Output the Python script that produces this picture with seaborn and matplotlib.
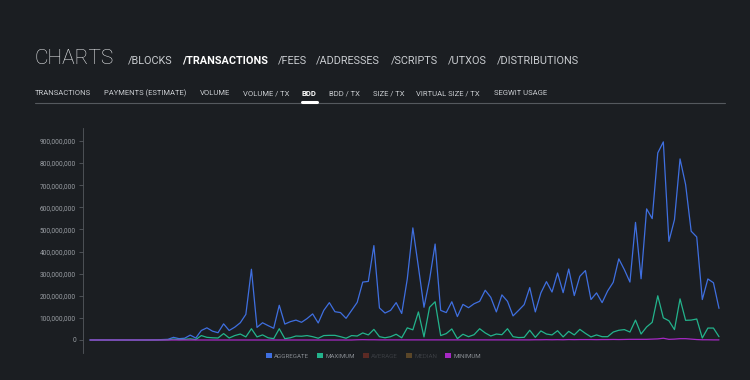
import numpy as np
import pandas as pd
import matplotlib
matplotlib.use("Agg")
import matplotlib.pyplot as plt
from matplotlib.patches import Patch
from matplotlib.ticker import FuncFormatter
import seaborn as sns

# values in millions, one point per month
aggregate = [0, 0, 0, 0, 0, 0, 0, 0, 0, 0, 0, 0.5, 1, 2, 3, 12, 6, 8, 22, 9,
             43, 55, 40, 33, 73, 43, 58, 78, 116, 320, 57, 78, 65, 53, 157, 72, 83, 90, 80, 97,
             118, 77, 134, 169, 128, 124, 98, 134, 170, 262, 265, 427, 145, 122, 134, 169, 120, 276, 507, 330,
             148, 273, 434, 134, 124, 173, 106, 161, 146, 164, 175, 225, 193, 127, 204, 175, 109, 134, 160, 237,
             127, 213, 264, 217, 303, 214, 321, 201, 288, 314, 183, 213, 169, 222, 261, 367, 318, 262, 532, 277,
             593, 549, 846, 896, 446, 544, 819, 703, 492, 466, 183, 276, 259, 143]
maximum = [0, 0, 0, 0, 0, 0, 0, 0, 0, 0, 0, 0, 0, 0.5, 1, 4, 2, 3, 5, 2,
           20, 12, 10, 9, 29, 9, 20, 27, 14, 51, 14, 23, 10, 6, 51, 6, 10, 18, 17, 20,
           15, 8, 20, 21, 21, 15, 8, 20, 18, 32, 23, 48, 15, 10, 15, 26, 10, 55, 46, 127,
           14, 148, 173, 20, 29, 50, 6, 26, 15, 24, 51, 32, 18, 27, 24, 51, 15, 11, 12, 44,
           12, 41, 27, 23, 42, 14, 39, 23, 48, 30, 14, 23, 15, 15, 36, 44, 47, 36, 90, 27,
           59, 80, 200, 100, 87, 47, 186, 89, 90, 95, 9, 54, 54, 15]
minimum = [0] * 48 + [1, 1.5, 1, 1] + [0.5] * 28 + [1, 1, 1.5, 1, 1.5, 1, 2, 1.5, 2, 2,
           2, 1.5, 2, 2, 2.5, 2, 2.5, 3, 3, 3,
           3, 4, 5, 8, 3, 4, 6, 6, 4, 2, 1, 1, 0.5, 0.5]

series_names = ["AGGREGATE", "MAXIMUM", "AVERAGE", "MEDIAN", "MINIMUM"]
colors = {"AGGREGATE": "#3f6fe0", "MAXIMUM": "#23b38c", "AVERAGE": "#5b2a24",
          "MEDIAN": "#5a4628", "MINIMUM": "#a628c4"}
shown = ["AGGREGATE", "MAXIMUM", "MINIMUM"]

nav = ["/BLOCKS", "/TRANSACTIONS", "/FEES", "/ADDRESSES", "/SCRIPTS", "/UTXOS", "/DISTRIBUTIONS"]
nav_x = [128, 182, 278, 316, 391, 448, 497]
subnav = ["TRANSACTIONS", "PAYMENTS (ESTIMATE)", "VOLUME", "VOLUME / TX", "BDD",
          "BDD / TX", "SIZE / TX", "VIRTUAL SIZE / TX", "SEGWIT USAGE"]
subnav_x = [35, 104, 200, 243, 302, 329, 373, 416, 494]

df = pd.DataFrame({
    "month": list(range(len(aggregate))) * 3,
    "value": np.array(aggregate + maximum + minimum) * 1e6,
    "series": ["AGGREGATE"] * len(aggregate) + ["MAXIMUM"] * len(maximum) + ["MINIMUM"] * len(minimum),
})

bg = "#1b1e22"
sns.set_style("dark")
plt.rcParams["font.family"] = ["Roboto", "DejaVu Sans"]

W, H = 750, 380
fig = plt.figure(figsize=(7.5, 3.8), dpi=100, facecolor=bg)

def px(x, y):
    return x / W, 1 - y / H

# header
fig.text(*px(34, 58), "CHARTS", color="#e6e8ea", fontsize=15, fontweight="light", va="center")
for label, x in zip(nav, nav_x):
    active = label == "/TRANSACTIONS"
    fig.text(*px(x, 61), label, color="#ffffff" if active else "#c9ccd0", fontsize=7.8,
             fontweight="bold" if active else "normal", va="center")
for label, x in zip(subnav, subnav_x):
    active = label == "BDD"
    fig.text(*px(x, 93), label, color="#ffffff" if active else "#c9ccd0", fontsize=5.5,
             fontweight="bold" if active else "normal", va="center")
fig.add_artist(plt.Line2D([35 / W, 725 / W], [1 - 103 / H] * 2, color="#55595e", lw=0.8))
fig.add_artist(plt.Line2D([302 / W, 317 / W], [1 - 101.5 / H] * 2, color="#ffffff", lw=2.2))

# chart
ax = fig.add_axes([83 / W, 1 - 353 / H, (725 - 83) / W, (353 - 128) / H])
ax.set_facecolor(bg)
sns.lineplot(data=df, x="month", y="value", hue="series", hue_order=shown,
             palette=colors, linewidth=0.9, legend=False, ax=ax)

per_px = 900e6 / (340 - 141)
ax.set_ylim(-13 * per_px, 900e6 + 13 * per_px)
step = (719 - 90) / (len(aggregate) - 1)
ax.set_xlim(-(90 - 83) / step, len(aggregate) - 1 + (725 - 719) / step)
ax.set_yticks(np.arange(0, 900e6 + 1, 100e6))
ax.yaxis.set_major_formatter(FuncFormatter(lambda v, p: f"{int(round(v)):,}"))
ax.tick_params(axis="y", colors="#55595e", labelcolor="#9a9ea4", labelsize=4.7,
               length=3, width=0.6, pad=2, left=True)
ax.xaxis.set_visible(False)
ax.grid(False)
for side in ["top", "right", "bottom"]:
    ax.spines[side].set_visible(False)
ax.spines["left"].set_color("#55595e")
ax.spines["left"].set_linewidth(0.6)
ax.set_xlabel("")
ax.set_ylabel("")

handles = [Patch(facecolor=colors[s], edgecolor="none", label=s) for s in series_names]
leg = fig.legend(handles=handles, loc="center", bbox_to_anchor=(373.5 / W, 1 - 356 / H), ncol=5,
                 frameon=False, fontsize=4.4, handlelength=0.95, handleheight=0.95,
                 handletextpad=0.45, columnspacing=1.25)
for text, s in zip(leg.get_texts(), series_names):
    text.set_color("#8a8e94" if s in shown else "#3b3e43")

fig.savefig("out.png", dpi=100, facecolor=bg)
